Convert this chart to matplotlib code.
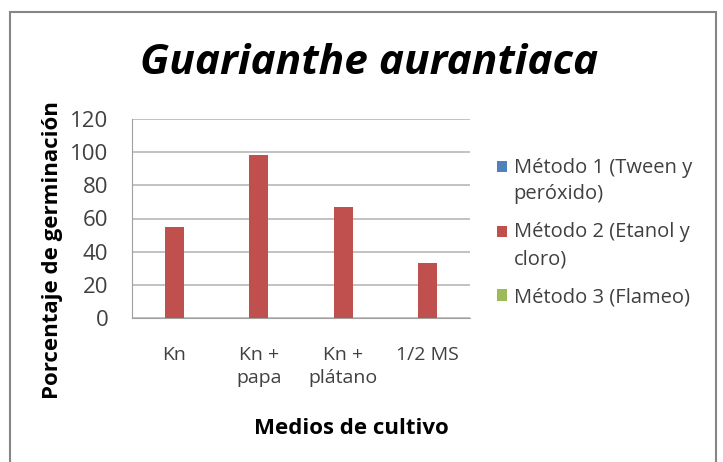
import numpy as np
import matplotlib.pyplot as plt
from matplotlib.patches import Rectangle

# Data
medios = ["Kn", "Kn +\npapa", "Kn +\nplátano", "1/2 MS"]
metodo1 = [0, 0, 0, 0]
metodo2 = [55, 98, 67, 33]
metodo3 = [0, 0, 0, 0]
series_labels = ["Método 1 (Tween y\nperóxido)", "Método 2 (Etanol y\ncloro)", "Método 3 (Flameo)"]
colors = ["#4f81bd", "#c0504d", "#9bbb59"]

plt.rcParams["font.family"] = ["Open Sans", "DejaVu Sans"]

fig = plt.figure(figsize=(7.23, 4.62), dpi=100)
fig.patches.append(Rectangle((10 / 723, -0.1), 706 / 723, 1.1 - 12 / 462,
                             transform=fig.transFigure, fill=False,
                             edgecolor="#868686", linewidth=1.5))

ax = fig.add_axes([132 / 723, 1 - 318 / 462, 338 / 723, 199 / 462])

x = np.arange(len(medios))
w = 0.22
for i, vals in enumerate([metodo1, metodo2, metodo3]):
    ax.bar(x + (i - 1) * w, vals, width=w, color=colors[i], label=series_labels[i], zorder=3)

ax.set_xlim(-0.5, len(medios) - 0.5)
ax.set_ylim(0, 120)
ax.set_yticks(range(0, 121, 20))
ax.set_xticks(x)
ax.set_xticklabels(medios, fontsize=14, color="#404040", linespacing=1.4)
ax.tick_params(axis="y", labelsize=16, colors="#404040", length=0, pad=17)
ax.tick_params(axis="x", length=0, pad=20)
ax.grid(axis="y", color="#b8b8b8", linewidth=1.2, zorder=0)
for s in ["top", "right"]:
    ax.spines[s].set_visible(False)
ax.spines["left"].set_color("#a0a0a0")
ax.spines["bottom"].set_color("#a0a0a0")

ax.set_xlabel("Medios de cultivo", fontsize=16, fontweight="bold")
ax.xaxis.set_label_coords(0.65, -0.5)
ax.set_ylabel("Porcentaje de germinación", fontsize=16, fontweight="bold")
ax.yaxis.set_label_coords(-0.205, 0.34)

fig.text(369 / 723, 1 - 64 / 462, "Guarianthe aurantiaca", fontsize=30.5,
         fontweight="bold", style="italic", ha="center", va="center")

leg = ax.legend(loc="center left", bbox_to_anchor=(1.025, 0.43), frameon=False,
                fontsize=14.5, handlelength=0.5, handleheight=0.5, handletextpad=0.35,
                labelspacing=0.9, labelcolor="#404040")
for t in leg.get_texts():
    t.set_linespacing(1.45)
# markers sit next to the first line of two-line entries
for p, lab in zip(leg.get_patches(), series_labels):
    if "\n" in lab:
        p.set_y(p.get_y() + 10.5)

fig.savefig("out.png", dpi=100)
